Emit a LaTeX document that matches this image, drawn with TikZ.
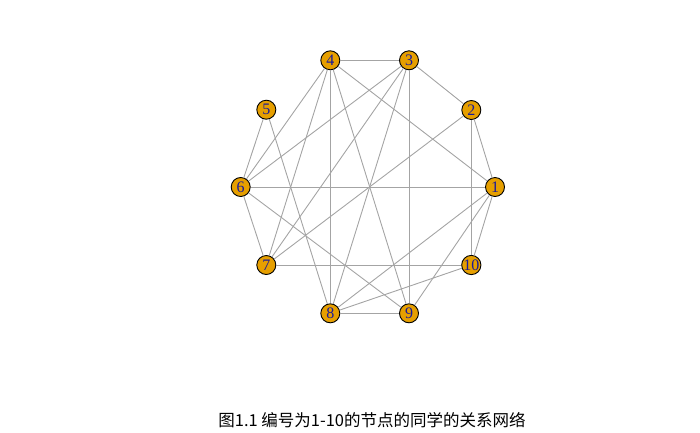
\documentclass[tikz,border=0pt]{standalone}
\usepackage{fontspec}
\setmainfont{Liberation Serif}
\newfontfamily\cjkfont{Noto Sans CJK SC}
\definecolor{vfill}{HTML}{E69F00}
\definecolor{vlabel}{HTML}{1A1A9A}
\definecolor{edgec}{HTML}{A4A4A4}
\begin{document}
\begin{tikzpicture}[x=1pt,y=-1pt,
  vtx/.style={circle,draw=black,line width=0.9pt,fill=vfill,minimum size=19pt,inner sep=0pt,
    text=vlabel,font=\fontsize{16}{16}\selectfont},
  edge/.style={draw=edgec,line width=0.9pt}]
\useasboundingbox (0,0) rectangle (700,432);
\node[vtx] (n1) at (495,187) {1};
\node[vtx] (n2) at (471.3,110) {2};
\node[vtx] (n3) at (409,60.3) {3};
\node[vtx] (n4) at (330.3,60.3) {4};
\node[vtx] (n5) at (266.3,109.7) {5};
\node[vtx] (n6) at (240.7,187) {6};
\node[vtx] (n7) at (266.3,265) {7};
\node[vtx] (n8) at (330.3,313.3) {8};
\node[vtx] (n9) at (409,313.3) {9};
\node[vtx] (n10) at (471.3,265) {10};
\foreach \a/\b in {n1/n2,n1/n4,n1/n6,n1/n8,n1/n9,n1/n10,
  n2/n3,n2/n7,n2/n10,
  n3/n4,n3/n6,n3/n7,n3/n8,n3/n9,
  n4/n6,n4/n7,n4/n8,n4/n9,
  n5/n6,n5/n8,
  n6/n7,n6/n9,
  n7/n10,
  n8/n9,n8/n10}
  \draw[edge] (\a) -- (\b);
\node[font=\cjkfont\fontsize{16.5}{16.5}\selectfont,inner sep=0pt] (cap) at (372,420) {图1.1 编号为1-10的节点的同学的关系网络};
\end{tikzpicture}
\end{document}
